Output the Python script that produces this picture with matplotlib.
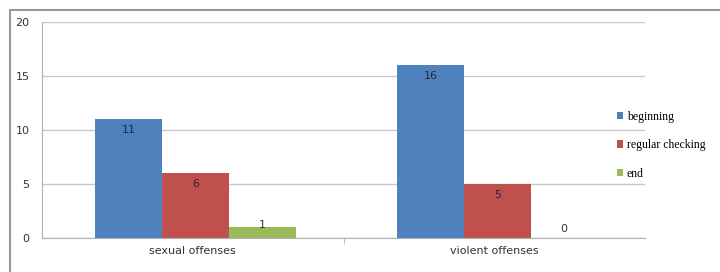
import numpy as np
import matplotlib.pyplot as plt

categories = ["sexual offenses", "violent offenses"]
series = ["beginning", "regular checking", "end"]
beginning = [11, 16]
regular_checking = [6, 5]
end = [1, 0]
colors = ["#4F81BD", "#C0504D", "#9BBB59"]

values = [beginning, regular_checking, end]

fig = plt.figure(figsize=(7.2, 2.72), dpi=100)
# outer chart frame
fig.patches.append(plt.Rectangle((10 / 720, -0.1), 1.2, 1 - 10 / 272 + 0.1,
                                 transform=fig.transFigure, fill=False,
                                 edgecolor="#9a9a9a", linewidth=1.5))

ax = fig.add_axes([42 / 720, 1 - 238 / 272, (645 - 42) / 720, (238 - 22) / 272])

x = np.arange(len(categories))
w = 0.222
for i, (name, vals) in enumerate(zip(series, values)):
    pos = x + (i - 1) * w + 0.01
    ax.bar(pos, vals, width=w, color=colors[i], label=name)
    for p, v in zip(pos, vals):
        if v >= 3:
            ax.text(p, v - 1.0, str(v), ha="center", va="center", fontsize=8, color="#1f2a3a")
        else:
            ax.text(p, v + 0.8 - v * 0.6, str(v), ha="center", va="center", fontsize=8, color="#333333")

ax.set_xlim(-0.5, 1.5)
ax.set_ylim(0, 20)
ax.set_yticks([0, 5, 10, 15, 20])
ax.yaxis.grid(True, color="#c8c8c8", linewidth=1)
ax.set_axisbelow(True)
ax.set_xticks(x)
ax.set_xticklabels(categories, fontsize=8, color="#333333")
ax.set_xticks([0.5], minor=True)
ax.tick_params(axis="x", which="major", length=0, pad=6)
ax.tick_params(axis="x", which="minor", length=4, color="#b0b0b0")
ax.tick_params(axis="y", length=0, labelsize=8, labelcolor="#333333", pad=9)
for s in ["top", "right"]:
    ax.spines[s].set_visible(False)
ax.spines["left"].set_color("#b0b0b0")
ax.spines["bottom"].set_color("#b0b0b0")

ax.legend(loc="center left", bbox_to_anchor=(0.945, 0.43), frameon=False,
          prop={"family": "Liberation Serif", "size": 8.5}, handlelength=0.55,
          handleheight=0.55, handletextpad=0.3, labelspacing=1.4, borderaxespad=0.0)

fig.savefig("out.png", dpi=100)
